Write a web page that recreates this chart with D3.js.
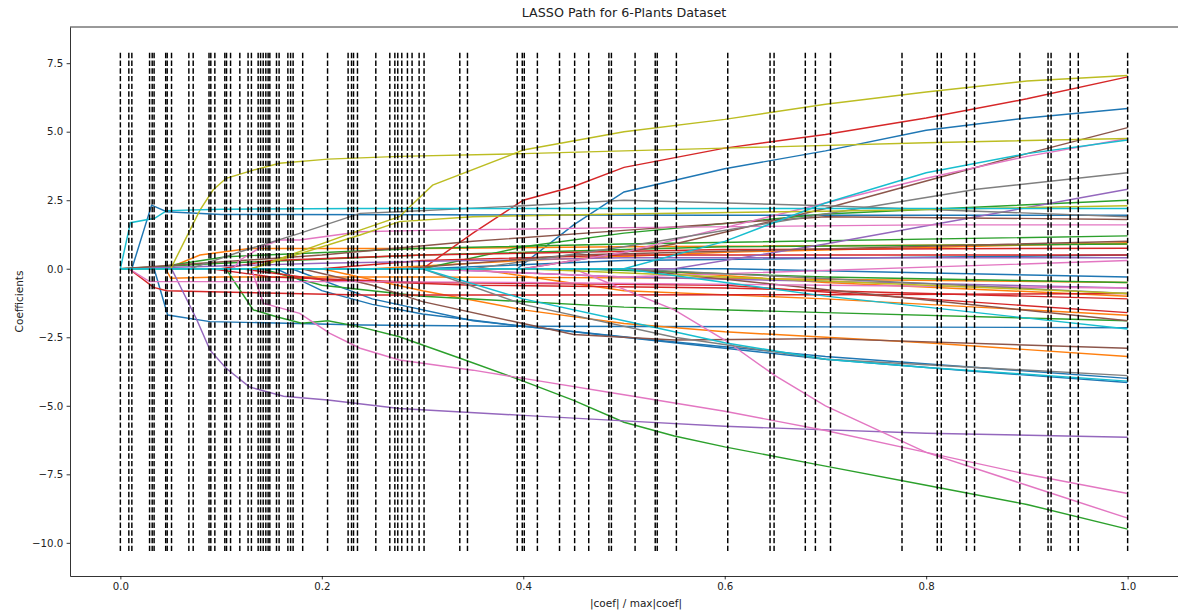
<!DOCTYPE html>
<html>
<head>
<meta charset="utf-8">
<script src="https://cdn.jsdelivr.net/npm/d3@7"></script>
<style>
  html, body { margin: 0; padding: 0; background: #fff; overflow: hidden; }
  svg { display: block; }
  text { font-family: "DejaVu Sans", sans-serif; }
</style>
</head>
<body>
<script>
// LASSO path data: each path is [ratio, coefficient] pairs
const chartTitle = "LASSO Path for 6-Plants Dataset";
const xLabel = "|coef| / max|coef|";
const yLabel = "Coefficients";
const xTicks = [0, 0.2, 0.4, 0.6, 0.8, 1.0];
const yTicks = [-10, -7.5, -5, -2.5, 0, 2.5, 5, 7.5];
const vlineRange = [-10.3, 7.9];

// x positions of the LARS steps (dashed lines)
const steps = [0, 0.0084, 0.0114, 0.029, 0.0316, 0.0335, 0.045, 0.0465, 0.0508,
  0.068, 0.0723, 0.088, 0.0898, 0.0938, 0.1037, 0.1054, 0.1094, 0.1186,
  0.1268, 0.1301, 0.1368, 0.1392, 0.1418, 0.1444, 0.1467, 0.1484,
  0.155, 0.1576, 0.1663, 0.169, 0.1715, 0.181, 0.2057, 0.2261, 0.2295, 0.2315,
  0.2354, 0.2536, 0.2675, 0.2725, 0.2754, 0.2794, 0.285, 0.2896, 0.2966, 0.3015,
  0.337, 0.3446, 0.394, 0.399, 0.401, 0.414, 0.436, 0.451, 0.465, 0.485, 0.4875,
  0.511, 0.531, 0.533, 0.552, 0.603, 0.645, 0.649, 0.680, 0.690, 0.705, 0.776,
  0.811, 0.815, 0.840, 0.848, 0.893, 0.921, 0.924, 0.943, 0.951, 1.0];

const bluePaths = [
  [[0,0],[0.0114,0],[0.031,2.32],[0.046,2.08],[0.1,1.98],[0.3,1.97],[0.6,1.95],[1.0,1.95]],
  [[0,0],[0.0335,0],[0.047,-1.69],[0.089,-1.93],[0.24,-2.05],[0.4,-2.1],[0.7,-2.12],[1.0,-2.15]],
  [[0,0],[0.394,0],[0.45,1.6],[0.5,2.8],[0.6,3.65],[0.7,4.3],[0.8,5.05],[0.9,5.5],[1.0,5.85]],
  [[0,0],[0.155,0],[0.2,-0.8],[0.25,-1.3],[0.3,-1.65],[0.4,-2.1],[0.53,-2.6],[0.7,-3.2],[0.85,-3.6],[1.0,-4.0]],
  [[0,0],[0.17,0],[0.25,-1.1],[0.35,-1.9],[0.45,-2.3],[0.55,-2.7],[0.7,-3.3],[0.85,-3.75],[1.0,-4.15]],
  [[0,0],[0.3,0],[0.5,0.3],[1.0,0.5]],
  [[0,0],[0.6,0],[1.0,-0.3]]
];
const orangePaths = [
  [[0,0],[0.046,0],[0.079,0.5],[0.128,0.74],[0.3,0.74],[0.5,0.8],[1.0,0.9]],
  [[0,0],[0.045,0],[0.05,-0.35],[0.1,-0.3],[0.3,-0.3],[0.6,-0.35],[1.0,-0.5]],
  [[0,0],[0.2,0],[0.3,-0.8],[0.4,-1.5],[0.5,-2.0],[0.6,-2.3],[0.8,-2.7],[1.0,-3.2]],
  [[0,0],[0.35,0],[0.5,-0.8],[0.7,-1.1],[1.0,-1.7]],
  [[0,0],[0.25,0],[0.4,0.3],[0.6,0.6],[1.0,0.95]],
  [[0,0],[0.5,0],[0.7,-0.5],[1.0,-1.0]]
];
const greenPaths = [
  [[0,0],[0.031,0],[0.05,0.13],[0.105,0.44],[0.3,0.75],[0.5,0.9],[1.0,1.2]],
  [[0,0],[0.105,0],[0.112,-0.41],[0.132,-1.5],[0.155,-1.75],[0.18,-1.99],[0.206,-1.9],[0.238,-2.12],[0.277,-2.48],[0.34,-3.3],[0.4,-4.1],[0.45,-4.8],[0.5,-5.6],[0.55,-6.1],[0.6,-6.5],[0.7,-7.2],[0.8,-7.9],[0.9,-8.6],[1.0,-9.5]],
  [[0,0],[0.3,0],[0.4,0.8],[0.5,1.3],[0.7,2.0],[1.0,2.5]],
  [[0,0],[0.14,0],[0.2,-0.6],[0.3,-1.0],[0.5,-1.4],[0.7,-1.6],[1.0,-1.9]],
  [[0,0],[0.1,0.2],[0.3,0.5],[0.6,0.8],[1.0,0.9]],
  [[0,0],[0.45,0],[0.7,-0.3],[1.0,-0.5]]
];
const redPaths = [
  [[0,0],[0.0084,0],[0.033,-0.68],[0.046,-0.8],[0.1,-0.85],[0.24,-0.96],[0.4,-0.96],[0.7,-0.95],[1.0,-0.9]],
  [[0,0],[0.3,0],[0.35,1.3],[0.4,2.5],[0.45,3.0],[0.5,3.7],[0.6,4.4],[0.7,4.9],[0.8,5.5],[0.9,6.2],[1.0,7.0]],
  [[0,0],[0.1,0],[0.15,0.3],[0.3,0.5],[0.6,0.7],[1.0,0.75]],
  [[0,0],[0.12,0],[0.2,-0.4],[0.35,-0.6],[0.6,-0.7],[1.0,-1.1]],
  [[0,0],[0.2,0],[0.3,0.3],[0.5,0.5],[1.0,0.5]],
  [[0,0],[0.09,0],[0.15,-0.3],[0.3,-0.5],[0.6,-0.6],[1.0,-1.6]]
];
const purplePaths = [
  [[0,0],[0.0508,0],[0.076,-1.87],[0.089,-2.97],[0.105,-3.63],[0.128,-4.31],[0.162,-4.65],[0.206,-4.79],[0.277,-5.1],[0.4,-5.35],[0.5,-5.55],[0.6,-5.75],[0.8,-6.0],[1.0,-6.15]],
  [[0,0],[0.55,0],[0.7,0.9],[0.85,1.9],[1.0,2.9]],
  [[0,0],[0.3,0],[0.5,-0.3],[1.0,-0.7]],
  [[0,0],[0.2,0.2],[0.5,0.4],[1.0,0.4]]
];
const brownPaths = [
  [[0,0],[0.4,0],[0.55,0.9],[0.7,2.2],[0.8,3.2],[0.9,4.2],[1.0,5.15]],
  [[0,0],[0.18,0],[0.25,-0.6],[0.3,-1.2],[0.4,-2.0],[0.45,-2.4],[0.55,-2.6],[0.7,-2.55],[1.0,-2.9]],
  [[0,0],[0.2,0.5],[0.35,1.0],[0.5,1.4],[0.7,1.9],[1.0,1.8]],
  [[0,0],[0.28,0],[0.45,0.5],[1.0,1.0]],
  [[0,0],[0.5,0],[1.0,-1.9]]
];
const pinkPaths = [
  [[0,0],[0.0084,0],[0.029,-0.47],[0.1,-0.47],[0.24,-0.47],[0.4,-0.5],[0.7,-0.6],[1.0,-0.7]],
  [[0,0],[0.13,0],[0.142,-1.26],[0.155,-1.39],[0.178,-1.63],[0.208,-2.36],[0.238,-2.9],[0.277,-3.33],[0.35,-3.7],[0.4,-4.0],[0.5,-4.6],[0.6,-5.2],[0.7,-5.9],[0.8,-6.7],[0.9,-7.5],[1.0,-8.2]],
  [[0,0],[0.112,0],[0.119,0.32],[0.14,0.8],[0.158,1.05],[0.178,1.05],[0.238,1.35],[0.3,1.4],[0.5,1.5],[0.8,1.6],[1.0,1.6]],
  [[0,0],[0.45,0],[0.55,-1.5],[0.6,-2.6],[0.65,-3.9],[0.7,-5.0],[0.8,-6.7],[0.9,-7.9],[1.0,-9.1]],
  [[0,0],[0.4,0],[0.5,0.6],[0.6,1.5],[0.7,2.4],[0.8,3.3],[0.9,4.1],[1.0,4.75]],
  [[0,0],[0.3,0],[0.5,-0.3],[1.0,0.3]]
];
const grayPaths = [
  [[0,0],[0.069,0],[0.119,0.62],[0.178,1.29],[0.238,2.02],[0.277,2.08],[0.4,2.3],[0.5,2.5],[0.7,2.3],[1.0,1.9]],
  [[0,0],[0.35,0],[0.5,0.8],[0.7,2.0],[0.85,2.9],[1.0,3.5]],
  [[0,0],[0.3,0],[0.4,-1.3],[0.55,-2.5],[0.7,-3.3],[0.85,-3.6],[1.0,-3.9]],
  [[0,0],[0.5,0],[1.0,-0.9]]
];
const olivePaths = [
  [[0,0],[0.05,0],[0.079,2.14],[0.092,2.87],[0.105,3.3],[0.132,3.6],[0.158,3.85],[0.206,4.0],[0.277,4.1],[0.4,4.2],[0.6,4.4],[0.8,4.6],[1.0,4.75]],
  [[0,0],[0.13,0],[0.238,1.41],[0.277,1.9],[0.31,3.05],[0.4,4.33],[0.5,5.0],[0.6,5.45],[0.7,6.0],[0.8,6.45],[0.9,6.85],[1.0,7.05]],
  [[0,0],[0.13,0],[0.238,1.23],[0.277,1.72],[0.35,1.9],[0.5,2.0],[0.7,2.1],[1.0,2.3]],
  [[0,0],[0.4,0],[0.6,-0.3],[1.0,-0.9]]
];
const cyanPaths = [
  [[0,0],[0.01,1.68],[0.034,1.84],[0.046,2.12],[0.1,2.17],[0.24,2.2],[0.5,2.2],[1.0,2.2]],
  [[0,0],[0.5,0],[0.6,1.0],[0.7,2.4],[0.8,3.5],[0.9,4.2],[1.0,4.7]],
  [[0,0],[0.3,0],[0.4,-1.1],[0.5,-1.9],[0.6,-2.7],[0.7,-3.3],[0.8,-3.6],[1.0,-4.1]],
  [[0,0],[0.5,0],[0.7,-1.0],[1.0,-2.2]]
];

const groups = [bluePaths, orangePaths, greenPaths, redPaths, purplePaths,
                brownPaths, pinkPaths, grayPaths, olivePaths, cyanPaths];

const width = 1178, height = 615;
const margin = { top: 27, right: 0, bottom: 39, left: 70 };
const innerWidth = width - margin.left - margin.right;
const innerHeight = height - margin.top - margin.bottom;

const svg = d3.select('body').append('svg')
    .attr('width', width)
    .attr('height', height);

const g = svg.append('g')
    .attr('transform', `translate(${margin.left},${margin.top})`);

const xScale = d3.scaleLinear().domain([-0.05, 1.05]).range([0, innerWidth]);
const yScale = d3.scaleLinear().domain([-11.21, 8.82]).range([innerHeight, 0]);

svg.append('defs').append('clipPath').attr('id', 'plot')
  .append('rect').attr('width', innerWidth).attr('height', innerHeight);

const plot = g.append('g').attr('clip-path', 'url(#plot)');

const line = d3.line().x(d => xScale(d[0])).y(d => yScale(d[1]));

groups.forEach((paths, i) => {
  plot.append('g').selectAll('path')
    .data(paths)
    .enter().append('path')
      .attr('d', line)
      .attr('fill', 'none')
      .attr('stroke', d3.schemeCategory10[i])
      .attr('stroke-width', 1.45);
});

// dashed step lines over the paths
plot.append('g').selectAll('line')
  .data(steps)
  .enter().append('line')
    .attr('x1', d => xScale(d)).attr('x2', d => xScale(d))
    .attr('y1', yScale(vlineRange[0])).attr('y2', yScale(vlineRange[1]))
    .attr('stroke', '#000')
    .attr('stroke-width', 1.45)
    .attr('stroke-dasharray', '5.4,2.3');

// axes
const xAxis = g.append('g')
  .attr('transform', `translate(0,${innerHeight})`)
  .call(d3.axisBottom(xScale).tickValues(xTicks).tickFormat(d3.format('.1f'))
    .tickSize(3.4).tickSizeOuter(0).tickPadding(3.4));
const yAxis = g.append('g')
  .call(d3.axisLeft(yScale).tickValues(yTicks).tickFormat(d => d3.format('.1f')(d).replace('-', '\u2212'))
    .tickSize(3.4).tickSizeOuter(0).tickPadding(3.4));

[xAxis, yAxis].forEach(a => {
  a.select('.domain').attr('stroke', '#000').attr('stroke-width', 0.8);
  a.selectAll('.tick line').attr('stroke', '#000').attr('stroke-width', 0.8);
  a.selectAll('.tick text').attr('font-size', 10.2).attr('fill', '#222')
    .attr('font-family', '"DejaVu Sans", sans-serif');
});

// top spine
g.append('line')
  .attr('x1', 0).attr('x2', innerWidth).attr('y1', 0).attr('y2', 0)
  .attr('stroke', '#000').attr('stroke-width', 0.8);

svg.append('text')
  .attr('x', 624)
  .attr('y', 17)
  .attr('text-anchor', 'middle')
  .attr('font-size', 12.7)
  .attr('fill', '#222')
  .text(chartTitle);

svg.append('text')
  .attr('x', 636)
  .attr('y', 607)
  .attr('text-anchor', 'middle')
  .attr('font-size', 10.5)
  .attr('fill', '#222')
  .text(xLabel);

svg.append('text')
  .attr('transform', `translate(23,${margin.top + innerHeight / 2}) rotate(-90)`)
  .attr('text-anchor', 'middle')
  .attr('font-size', 10.5)
  .attr('fill', '#222')
  .text(yLabel);
</script>
</body>
</html>
